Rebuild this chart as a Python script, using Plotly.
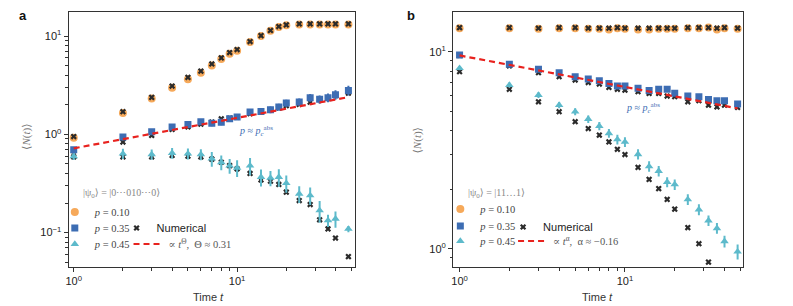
import plotly.graph_objects as go

W, H = 793, 306

t = [1, 2, 3, 4, 5, 6, 7, 8, 9, 10, 12, 14, 16, 18, 20, 24, 28, 32, 36, 40, 48]

# ---------------- panel a : |psi0> = |0...010...0>
a_p010 = [0.925, 1.65, 2.32, 2.98, 3.63, 4.24, 5.03, 5.84, 6.61, 7.1, 8.69, 10.0, 11.3, 12.4, 12.9, 13.1, 13.1, 13.1, 13.1, 13.1, 13.1]
a_p010_err = [0.02, 0.03, 0.04, 0.05, 0.06, 0.07, 0.08, 0.09, 0.1, 0.1, 0.12, 0.14, 0.15, 0.16, 0.16, 0.16, 0.16, 0.16, 0.16, 0.16, 0.16]
a_p010_num = [0.95, 1.7, 2.38, 3.1, 3.8, 4.4, 5.2, 6.0, 6.8, 7.3, 8.8, 10.1, 11.4, 12.5, 13.0, 13.3, 13.3, 13.3, 13.3, 13.3, 13.3]
a_p035 = [0.698, 0.94, 1.06, 1.19, 1.26, 1.34, 1.30, 1.33, 1.44, 1.50, 1.69, 1.71, 1.78, 1.90, 2.08, 2.13, 2.36, 2.27, 2.36, 2.53, 2.80]
a_p035_err = [0.03, 0.05, 0.06, 0.07, 0.08, 0.09, 0.09, 0.09, 0.1, 0.1, 0.12, 0.13, 0.14, 0.15, 0.17, 0.18, 0.22, 0.22, 0.24, 0.28, 0.32]
a_p035_num = [0.68, 0.835, 0.977, 1.12, 1.19, 1.27, 1.33, 1.44, 1.46, 1.50, 1.62, 1.70, 1.77, 1.86, 1.96, 2.02, 2.13, 2.27, 2.33, 2.47, 2.62]
a_p045 = [0.597, 0.636, 0.625, 0.645, 0.636, 0.625, 0.565, 0.52, 0.48, 0.457, 0.48, 0.367, 0.36, 0.367, 0.318, 0.248, 0.239, 0.168, 0.133, 0.138, 0.109]
a_p045_err = [0.05, 0.076, 0.075, 0.08, 0.08, 0.08, 0.096, 0.088, 0.082, 0.088, 0.096, 0.073, 0.063, 0.074, 0.064, 0.048, 0.048, 0.042, 0.019, 0.026, 0.008]
a_p045_num = [0.59, 0.59, 0.59, 0.61, 0.60, 0.59, 0.56, 0.52, 0.48, 0.446, 0.40, 0.344, 0.334, 0.309, 0.258, 0.212, 0.193, 0.135, 0.109, 0.088, 0.057]
a_fit_amp, a_fit_exp = 0.72, 0.31

# ---------------- panel b : |psi0> = |11...1>
b_p010 = [13.2, 13.2, 13.1, 13.2, 13.2, 13.1, 13.1, 13.0, 13.2, 13.1, 13.0, 13.0, 13.1, 13.1, 13.1, 13.2, 13.2, 13.3, 13.0, 13.2, 13.1]
b_p010_err = [0.15] * 21
b_p010_num = [13.3, 13.3, 13.2, 13.3, 13.3, 13.2, 13.2, 13.2, 13.3, 13.2, 13.2, 13.2, 13.2, 13.2, 13.2, 13.3, 13.3, 13.3, 13.2, 13.3, 13.2]
b_p035 = [9.66, 8.65, 8.16, 7.85, 7.49, 7.28, 7.14, 6.92, 6.71, 6.71, 6.53, 6.36, 6.46, 6.46, 6.16, 5.97, 5.92, 5.74, 5.65, 5.65, 5.43]
b_p035_err = [0.15] * 21
b_p035_num = [9.6, 8.5, 7.85, 7.49, 7.2, 6.99, 6.87, 6.61, 6.46, 6.4, 6.28, 6.16, 6.16, 5.97, 5.92, 5.58, 5.65, 5.37, 5.26, 5.37, 5.22]
b_p045 = [8.27, 6.79, 6.04, 5.37, 4.97, 4.56, 4.2, 3.86, 3.59, 3.49, 3.02, 2.62, 2.48, 2.18, 2.12, 1.78, 1.58, 1.39, 1.27, 1.09, 0.966]
b_p045_err = [0.2, 0.2, 0.2, 0.2, 0.2, 0.2, 0.2, 0.2, 0.2, 0.2, 0.18, 0.16, 0.15, 0.13, 0.13, 0.11, 0.1, 0.085, 0.08, 0.075, 0.085]
b_p045_num = [7.94, 6.46, 5.58, 4.97, 4.42, 4.08, 3.78, 3.49, 3.2, 3.01, 2.59, 2.25, 2.02, 1.78, 1.59, 1.28, 1.06, 0.855, None, None, None]
b_fit_amp, b_fit_exp = 9.6, -0.16

# tick labels
x_tickvals = [1, 10]
x_ticktext = ["10<sup>0</sup>", "10<sup>1</sup>"]
a_y_tickvals = [0.1, 1, 10]
a_y_ticktext = ["10<sup>\u22121</sup>", "10<sup>0</sup>", "10<sup>1</sup>"]
b_y_tickvals = [1, 10]
b_y_ticktext = ["10<sup>0</sup>", "10<sup>1</sup>"]

labels_p = ["<i>p</i> = 0.10", "<i>p</i> = 0.35", "<i>p</i> = 0.45"]
label_num = "Numerical"
a_fit_label = "\u221d <i>t</i><sup>\u0398</sup>,  \u0398 \u2248 0.31"
b_fit_label = "\u221d <i>t</i><sup>\u03b1</sup>,  \u03b1 \u2248 \u22120.16"
a_state = "|\u03c8<sub>0</sub>\u27e9 = |0\u22ef010\u22ef0\u27e9"
b_state = "|\u03c8<sub>0</sub>\u27e9 = |11\u20261\u27e9"
pc_label = "<i>p</i> \u2248 <i>p</i><sub><i>c</i></sub><sup>abs</sup>"

ORANGE = "#F6A95A"
BLUE = "#3D6DB3"
CYAN = "#5DBACB"
CROSS = "#2B2B2B"
RED = "#E8221E"
SERIF = "Liberation Serif, DejaVu Serif, serif"
SANS = "Liberation Sans, Arial, sans-serif"


def px(x):
    return x / W


def py(y):
    return 1 - y / H


fig = go.Figure()


def minor_vals(lo_exp, hi_exp):
    return [m * 10.0 ** e for e in range(lo_exp, hi_exp + 1) for m in range(2, 10)]


def add_panel(xr, yr, data, errs, nums, fit_amp, fit_exp, legs, fit_label):
    colors = [ORANGE, BLUE, CYAN]
    symbols = ["circle", "square", "triangle-up"]
    sizes = [8, 7, 7.5]
    # numerical crosses for blue & cyan (under markers)
    for k in (2, 1):
        fig.add_trace(go.Scatter(
            x=t, y=nums[k], mode="markers", xaxis=xr, yaxis=yr,
            marker=dict(symbol="x", size=5.5, color=CROSS, line=dict(width=0)),
            showlegend=False, name=label_num))
    for k in (2, 1, 0):
        fig.add_trace(go.Scatter(
            x=t, y=data[k], mode="markers", xaxis=xr, yaxis=yr,
            error_y=dict(type="data", array=errs[k], color=colors[k], thickness=2, width=0),
            marker=dict(symbol=symbols[k], size=sizes[k], color=colors[k], line=dict(width=0)),
            name=labels_p[k], legend=legs[k], showlegend=True))
    fig.add_trace(go.Scatter(
        x=t, y=nums[0], mode="markers", xaxis=xr, yaxis=yr,
        marker=dict(symbol="x", size=5.5, color=CROSS, line=dict(width=0)),
        name=label_num, legend=legs[3], showlegend=True))
    fit = [fit_amp * tt ** fit_exp for tt in t]
    fig.add_trace(go.Scatter(
        x=t, y=fit, mode="lines", xaxis=xr, yaxis=yr,
        line=dict(color=RED, width=2.2, dash="6px,4px"),
        name=fit_label, legend=legs[4], showlegend=True))


add_panel("x", "y", [a_p010, a_p035, a_p045], [a_p010_err, a_p035_err, a_p045_err],
          [a_p010_num, a_p035_num, a_p045_num], a_fit_amp, a_fit_exp,
          ["legend", "legend2", "legend3", "legend4", "legend5"], a_fit_label)
add_panel("x2", "y2", [b_p010, b_p035, b_p045], [b_p010_err, b_p035_err, b_p045_err],
          [b_p010_num, b_p035_num, b_p045_num], b_fit_amp, b_fit_exp,
          ["legend6", "legend7", "legend8", "legend9", "legend10"], b_fit_label)

axis_common = dict(
    type="log", showgrid=False, zeroline=False, showline=True, mirror=True,
    linecolor="#333333", linewidth=1.4, ticks="outside", ticklen=4, tickwidth=1,
    tickcolor="#333333", tickfont=dict(family=SANS, size=11, color="#222222"),
)
minor_common = dict(ticks="outside", ticklen=2.5, tickcolor="#333333")

fig.update_layout(
    width=W, height=H, margin=dict(l=0, r=0, t=0, b=0),
    paper_bgcolor="white", plot_bgcolor="white",
    xaxis=dict(axis_common, domain=[px(66), px(353)], range=[-0.0305, 1.7195],
               tickmode="array", tickvals=x_tickvals, ticktext=x_ticktext,
               minor=dict(minor_common, tickvals=minor_vals(0, 1)), anchor="y"),
    yaxis=dict(axis_common, domain=[py(267), py(12)], range=[-1.35, 1.245],
               tickmode="array", tickvals=a_y_tickvals, ticktext=a_y_ticktext,
               minor=dict(minor_common, tickvals=minor_vals(-2, 1)), anchor="x"),
    xaxis2=dict(axis_common, domain=[px(452), px(743)], range=[-0.038, 1.715],
                tickmode="array", tickvals=x_tickvals, ticktext=x_ticktext,
                minor=dict(minor_common, tickvals=minor_vals(0, 1)), anchor="y2"),
    yaxis2=dict(axis_common, domain=[py(267), py(12)], range=[-0.093, 1.203],
                tickmode="array", tickvals=b_y_tickvals, ticktext=b_y_ticktext,
                minor=dict(minor_common, tickvals=minor_vals(-1, 1)), anchor="x2"),
)

# legend boxes: (left edge of the box, vertical centre) in pixels
SERIF_LEG = dict(family=SERIF, size=10.5, color="#444444")
SANS_LEG = dict(family=SANS, size=11, color="#222222")
FIT_LEG = dict(family=SERIF, size=10.5, color="#555555")
leg_pos = {
    "legend": (52, 212, SERIF_LEG), "legend2": (52, 228, SERIF_LEG), "legend3": (52, 244, SERIF_LEG),
    "legend4": (114, 228, SANS_LEG), "legend5": (126, 244, FIT_LEG),
    "legend6": (439, 209, SERIF_LEG), "legend7": (439, 226, SERIF_LEG), "legend8": (439, 241, SERIF_LEG),
    "legend9": (502, 227, SANS_LEG), "legend10": (512, 241, FIT_LEG),
}
for key, (lx, ly, fnt) in leg_pos.items():
    fig.update_layout({key: dict(x=px(lx), y=py(ly), xanchor="left", yanchor="middle",
                                 bgcolor="rgba(0,0,0,0)", borderwidth=0, itemwidth=30,
                                 font=fnt, tracegroupgap=0, itemclick=False,
                                 itemdoubleclick=False)})

ann = []


def text(x, y, s, size=10.5, color="#333333", family=SERIF, xanchor="left", angle=0):
    ann.append(dict(x=px(x), y=py(y), xref="paper", yref="paper", text=s, showarrow=False,
                    xanchor=xanchor, yanchor="middle", textangle=angle,
                    font=dict(size=size, color=color, family=family)))


# panel letters
text(20, 15, "<b>a</b>", size=13, color="#111111", family=SANS, xanchor="center")
text(410, 15, "<b>b</b>", size=13, color="#111111", family=SANS, xanchor="center")
# axis titles
text(206, 297, "Time <i>t</i>", size=11, color="#333333", family=SANS, xanchor="center")
text(597, 297, "Time <i>t</i>", size=11, color="#333333", family=SANS, xanchor="center")
text(23, 137, "\u27e8<i>N</i>(<i>t</i>)\u27e9", size=11, color="#777777", family=SERIF, xanchor="center", angle=-90)
text(417, 140, "\u27e8<i>N</i>(<i>t</i>)\u27e9", size=11, color="#777777", family=SERIF, xanchor="center", angle=-90)
# initial-state labels
text(78, 193, a_state, size=10, color="#888888")
text(465, 193, b_state, size=10, color="#888888")
# critical point annotations
text(235, 131, pc_label, size=10, color=BLUE)
text(623, 108, pc_label, size=10, color=BLUE)

fig.update_layout(annotations=ann)
fig.write_html("out.html", config={"displayModeBar": False},
               post_script="document.body.style.margin='0';")
